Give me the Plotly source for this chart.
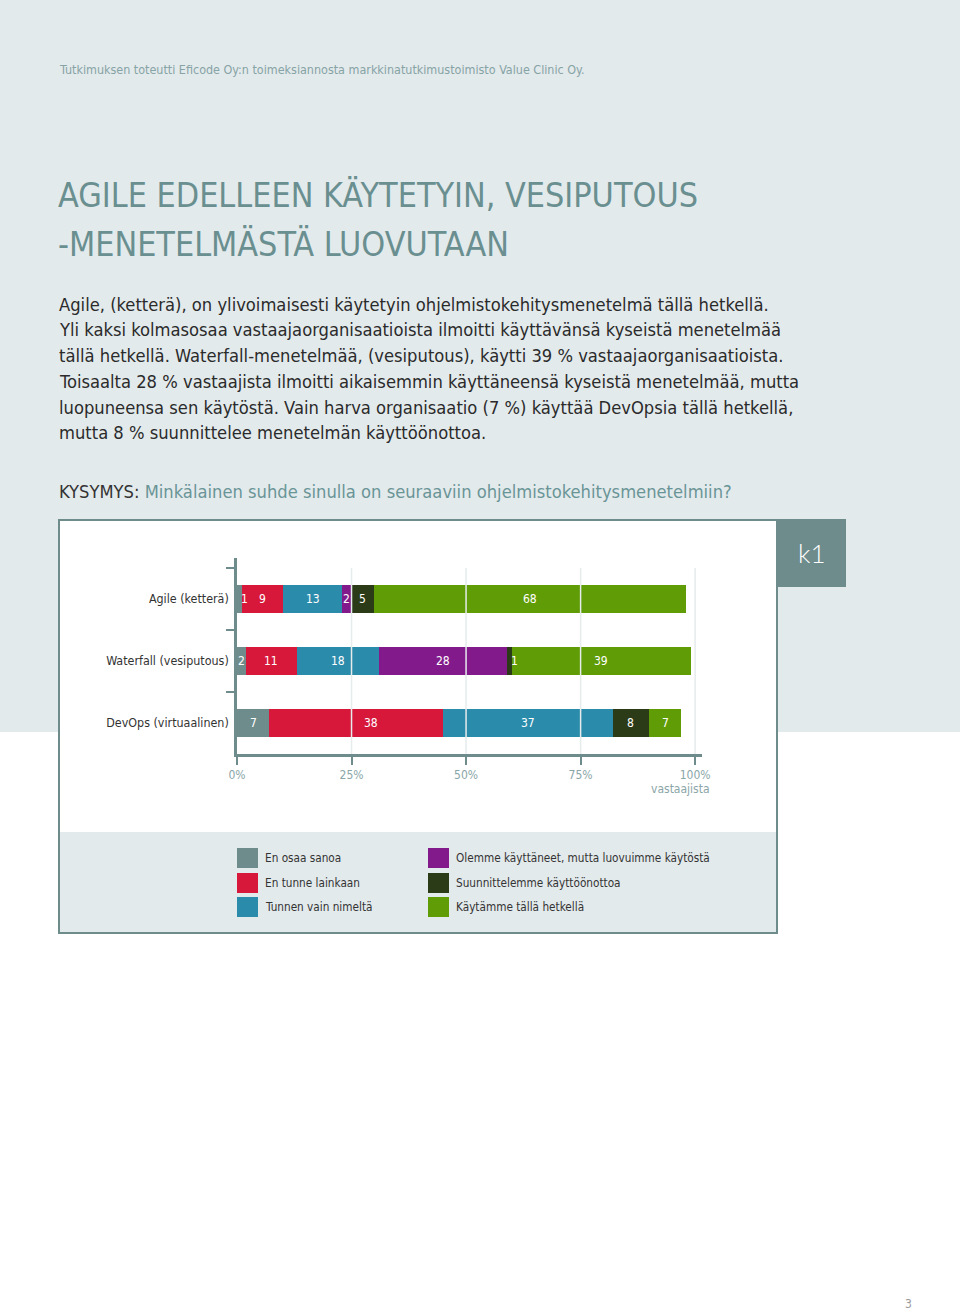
import plotly.graph_objects as go

W, H = 960, 1313

# ---------------- data ----------------
categories = ["Agile (ketterä)", "Waterfall (vesiputous)", "DevOps (virtuaalinen)"]
series_names = [
    "En osaa sanoa",
    "En tunne lainkaan",
    "Tunnen vain nimeltä",
    "Olemme käyttäneet, mutta luovuimme käytöstä",
    "Suunnittelemme käyttöönottoa",
    "Käytämme tällä hetkellä",
]
en_osaa = [1, 2, 7]
en_tunne = [9, 11, 38]
tunnen_nimelta = [13, 18, 37]
olemme_kayttaneet = [2, 28, 0]
suunnittelemme = [5, 1, 8]
kaytamme = [68, 39, 7]
series_values = [en_osaa, en_tunne, tunnen_nimelta, olemme_kayttaneet, suunnittelemme, kaytamme]
series_colors = ["#6f8c8c", "#d7183b", "#2b8bab", "#821a8b", "#2c3b17", "#5f9c06"]

tick_vals = [0, 25, 50, 75, 100]
tick_text = ["0%", "25%", "50%", "75%", "100%"]

header_text = "Tutkimuksen toteutti Eficode Oy:n toimeksiannosta markkinatutkimustoimisto Value Clinic Oy."
title_lines = ["AGILE EDELLEEN KÄYTETYIN, VESIPUTOUS", "-MENETELMÄSTÄ LUOVUTAAN"]
body_lines = [
    "Agile, (ketterä), on ylivoimaisesti käytetyin ohjelmistokehitysmenetelmä tällä hetkellä.",
    "Yli kaksi kolmasosaa vastaajaorganisaatioista ilmoitti käyttävänsä kyseistä menetelmää",
    "tällä hetkellä. Waterfall-menetelmää, (vesiputous), käytti 39 % vastaajaorganisaatioista.",
    "Toisaalta 28 % vastaajista ilmoitti aikaisemmin käyttäneensä kyseistä menetelmää, mutta",
    "luopuneensa sen käytöstä. Vain harva organisaatio (7 %) käyttää DevOpsia tällä hetkellä,",
    "mutta 8 % suunnittelee menetelmän käyttöönottoa.",
]
question_label = "KYSYMYS:"
question_text = "Minkälainen suhde sinulla on seuraaviin ohjelmistokehitysmenetelmiin?"

# ---------------- helpers ----------------
def px(x):
    return x / W

def py(y):
    return 1 - y / H

FONT = "DejaVu Sans Condensed, Liberation Sans Narrow, sans-serif"
NARROW = "Liberation Sans Narrow, DejaVu Sans Condensed, sans-serif"
BG = "#e3eaec"
TEAL = "#6f8c8c"

fig = go.Figure()

for name, vals, col in zip(series_names, series_values, series_colors):
    fig.add_trace(go.Bar(
        y=categories, x=vals, name=name, orientation="h",
        marker=dict(color=col, line=dict(width=0)),
        showlegend=False, hoverinfo="x+name",
    ))

shapes = []
annotations = []

# page backgrounds
shapes.append(dict(type="rect", xref="paper", yref="paper", x0=0, x1=1, y0=py(732), y1=1,
                   fillcolor=BG, line=dict(width=0), layer="below"))
shapes.append(dict(type="rect", xref="paper", yref="paper", x0=px(59), x1=px(777), y0=py(933), y1=py(520),
                   fillcolor="white", line=dict(color=TEAL, width=2), layer="below"))
shapes.append(dict(type="rect", xref="paper", yref="paper", x0=px(60), x1=px(776), y0=py(932), y1=py(832),
                   fillcolor=BG, line=dict(width=0), layer="below"))
shapes.append(dict(type="rect", xref="paper", yref="paper", x0=px(777), x1=px(846), y0=py(587), y1=py(519),
                   fillcolor=TEAL, line=dict(width=0), layer="below"))
annotations.append(dict(text="k1", xref="paper", yref="paper", x=px(811), y=py(553), showarrow=False,
                        font=dict(family="Lato, sans-serif", size=26, color="white", weight=300),
                        xanchor="center", yanchor="middle"))

# vertical gridlines drawn above bars
for tv in tick_vals[1:]:
    shapes.append(dict(type="line", xref="x", yref="y", x0=tv, x1=tv, y0=-0.5, y1=2.5,
                       line=dict(color="#e6ebec", width=1.5), layer="above"))

# bar labels (positions derived from data)
for ci, cat in enumerate(categories):
    start = 0
    for vals in series_values:
        v = vals[ci]
        if v > 0:
            center = start + v / 2
            shift = 0
            if v >= 10:
                for tv in tick_vals[1:-1]:
                    if abs(center - tv) < 2:
                        shift = 15
            if v <= 1:
                shift = 5
            annotations.append(dict(text=str(v), xref="x", yref="y", x=center, y=cat, xshift=shift,
                                    showarrow=False, font=dict(family=FONT, size=12, color="white"),
                                    xanchor="center", yanchor="middle"))
        start += v

annotations.append(dict(text="vastaajista", xref="paper", yref="paper", x=px(680), y=py(789),
                        showarrow=False, font=dict(family=FONT, size=12, color="#8aa6a8"),
                        xanchor="center", yanchor="middle"))

# custom legend
legend_cols_x = [237, 428]
legend_rows_y = [858, 883, 907]
for i, (name, col) in enumerate(zip(series_names, series_colors)):
    cx = legend_cols_x[i // 3]
    ry = legend_rows_y[i % 3]
    shapes.append(dict(type="rect", xref="paper", yref="paper", x0=px(cx), x1=px(cx + 21),
                       y0=py(ry + 10), y1=py(ry - 10), fillcolor=col, line=dict(width=0), layer="below"))
    annotations.append(dict(text=name, xref="paper", yref="paper", x=px(cx + 26), y=py(ry),
                            showarrow=False, font=dict(family=FONT, size=11.7, color="#333333"),
                            xanchor="left", yanchor="middle"))

# texts
annotations.append(dict(text=header_text, xref="paper", yref="paper", x=px(57), y=py(69), showarrow=False,
                        font=dict(family=FONT, size=12.45, color="#86a3a5"), xanchor="left", yanchor="middle"))
for i, line in enumerate(title_lines):
    annotations.append(dict(text=line, xref="paper", yref="paper", x=px(56), y=py(196 + 48 * i), showarrow=False,
                            font=dict(family=NARROW, size=33.8, color="#6a8f90"), xanchor="left", yanchor="middle"))
for i, line in enumerate(body_lines):
    annotations.append(dict(text=line, xref="paper", yref="paper", x=px(57), y=py(304 + 25.8 * i), showarrow=False,
                            font=dict(family=FONT, size=18.2, color="#2b2b2b"), xanchor="left", yanchor="middle"))
annotations.append(dict(text=f'<span style="color:#333333">{question_label}</span> {question_text}',
                        xref="paper", yref="paper", x=px(57), y=py(491), showarrow=False,
                        font=dict(family=FONT, size=18.2, color="#6a9597"), xanchor="left", yanchor="middle"))
annotations.append(dict(text="3", xref="paper", yref="paper", x=px(908), y=py(1304), showarrow=False,
                        font=dict(family=FONT, size=12, color="#9a9a9a"), xanchor="center", yanchor="middle"))

fig.update_layout(
    width=W, height=H, autosize=False,
    margin=dict(l=0, r=0, t=0, b=0, pad=0, autoexpand=False),
    paper_bgcolor="white", plot_bgcolor="rgba(0,0,0,0)",
    barmode="stack", bargap=0.56,
    shapes=shapes, annotations=annotations,
    xaxis=dict(domain=[px(237), px(702)], range=[0, 101.5], showgrid=False, zeroline=False,
               automargin=False,
               showline=True, linecolor=TEAL, linewidth=2.5,
               ticks="outside", ticklen=8, tickwidth=2, tickcolor=TEAL,
               tickvals=tick_vals, ticktext=tick_text,
               tickfont=dict(family=FONT, size=12, color="#8aa6a8")),
    yaxis=dict(domain=[py(754), py(558)], type="category", categoryorder="array", categoryarray=categories,
               range=[2.5, -0.66], showgrid=False, zeroline=False, automargin=False,
               showline=True, linecolor=TEAL, linewidth=2.5,
               ticks="outside", ticklen=8, tickwidth=2, tickcolor=TEAL, tickson="boundaries",
               ticklabelstandoff=3,
               tickfont=dict(family=FONT, size=12.4, color="#333333")),
)

css_fix = ("var s=document.createElement('style');"
           "s.innerHTML='html,body{margin:0 !important;padding:0 !important;overflow:hidden !important;}';"
           "document.head.appendChild(s);")
fig.write_html("out.html", post_script=css_fix)
